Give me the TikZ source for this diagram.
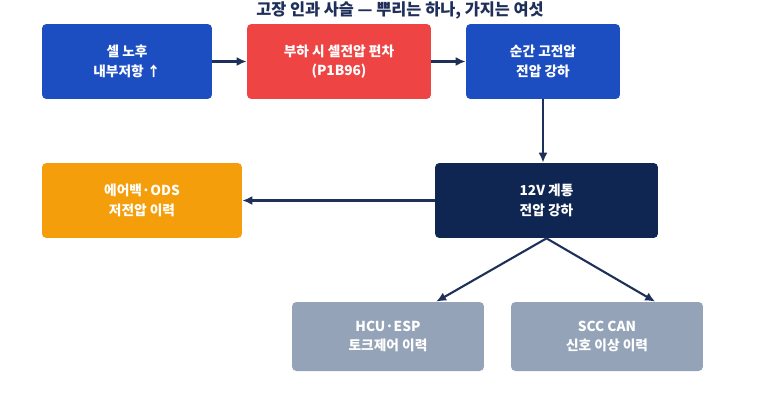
\documentclass[tikz,border=0pt]{standalone}
\usepackage{fontspec}
\setmainfont{Noto Sans CJK KR}
\usetikzlibrary{arrows.meta,positioning,calc}
\definecolor{cblue}{HTML}{1C4EC2}
\definecolor{cred}{HTML}{EF4444}
\definecolor{corange}{HTML}{F59E0B}
\definecolor{cnavy}{HTML}{0F2552}
\definecolor{cgray}{HTML}{94A3B8}
\definecolor{cline}{HTML}{1E2F5A}
\tikzset{
  stepbox/.style={rounded corners=2.5pt, minimum height=1.5cm, text=white, align=center, font=\bfseries\fontsize{7.8}{11.2}\selectfont},
  agebox/.style={stepbox, fill=cblue},
  faultbox/.style={stepbox, fill=cred},
  effbox/.style={stepbox, fill=corange},
  sysbox/.style={stepbox, fill=cnavy},
  logbox/.style={stepbox, fill=cgray, minimum height=1.38cm},
  link/.style={-{Latex[length=2mm,width=1.8mm]}, line width=1.2pt, draw=cline},
}
\begin{document}
\begin{tikzpicture}[x=0.02cm, y=-0.02cm]
  \useasboundingbox (0,0) rectangle (773,396);

  \node[font=\bfseries\fontsize{9.3}{10}\selectfont, text=cline] (title) at (400,10)
    {고장 인과 사슬 — 뿌리는 하나, 가지는 여섯};

  \node[agebox, minimum width=3.4cm] (age) at (127,61.5) {셀 노후\\내부저항 ↑};
  \node[faultbox, minimum width=3.68cm] (dev) at (339,61.5) {부하 시 셀전압 편차\\(P1B96)};
  \node[agebox, minimum width=3.08cm] (drop) at (543,61.5) {순간 고전압\\전압 강하};

  \node[sysbox, minimum width=4.46cm] (lv) at (546.5,200.5) {12V 계통\\전압 강하};
  \node[effbox, minimum width=4.0cm] (ods) at (142,200.5) {에어백·ODS\\저전압 이력};

  \node[logbox, minimum width=3.84cm] (hcu) at (388,336.5) {HCU·ESP\\토크제어 이력};
  \node[logbox, minimum width=3.84cm] (scc) at (607,336.5) {SCC CAN\\신호 이상 이력};

  \draw[link] (age) -- (dev);
  \draw[link] (dev) -- (drop);
  \draw[link] (drop.south) -- (drop.south |- lv.north);
  \draw[link] (lv) -- (ods);
  \draw[link] (lv.south) -- ($(hcu.north)!0.5!(hcu.north east)$);
  \draw[link] (lv.south) -- ($(scc.north)!0.5!(scc.north east)$);
\end{tikzpicture}
\end{document}
